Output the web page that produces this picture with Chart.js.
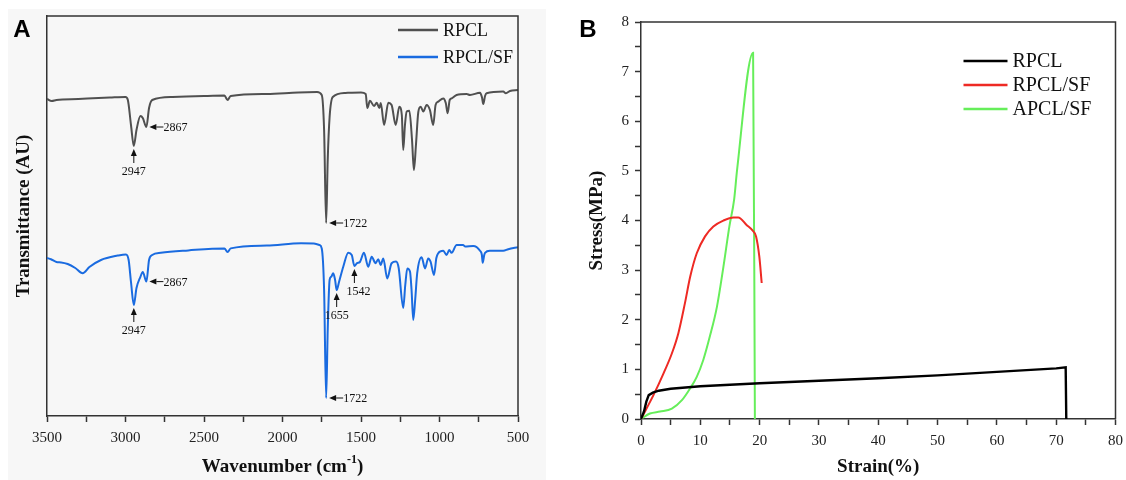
<!DOCTYPE html>
<html>
<head>
<meta charset="utf-8">
<script src="https://cdn.jsdelivr.net/npm/chart.js@4.4.1/dist/chart.umd.min.js"></script>
<style>
  body { margin: 0; background: #fff; width: 1126px; height: 480px; overflow: hidden; position: relative; }
  #bgA { position: absolute; left: 8px; top: 9px; width: 538px; height: 471px; background: #f7f7f7; }
  #chartA { position: absolute; left: 0; top: 0; }
  #chartB { position: absolute; left: 560px; top: 0; }
</style>
</head>
<body>
<div id="bgA"></div>
<canvas id="chartA" width="550" height="480"></canvas>
<canvas id="chartB" width="570" height="480"></canvas>
<script>
// ---- Panel A: FTIR spectra, [wavenumber, transmittance (AU)] ----
const rpclSpectrum = [
  [3500, 79.25], [3470, 78.75], [3440, 79], [3300, 79.25], [3100, 79.6], [3000, 79.75],
  [2985, 79], [2965, 72.75], [2947, 67.5], [2930, 71.5], [2905, 75], [2890, 74.5],
  [2867, 72.25], [2850, 77], [2830, 79], [2700, 79.75], [2500, 80], [2370, 80.1],
  [2350, 79], [2330, 80], [2100, 80.5], [1900, 80.9], [1780, 81], [1750, 80.25],
  [1735, 71.5], [1722, 48.25], [1712, 64], [1700, 74.75], [1680, 79.75], [1600, 80.75],
  [1500, 80.9], [1470, 80.5], [1460, 77], [1443, 78.8], [1417, 77.5], [1400, 78.3],
  [1383, 77], [1374, 78.25], [1353, 72.75], [1326, 78.3], [1305, 77.75], [1279, 72.75],
  [1256, 77.3], [1240, 75.25], [1231, 66.5], [1220, 72.75], [1209, 76.1], [1192, 76.3],
  [1175, 69], [1163, 61.5], [1150, 67.75], [1135, 76], [1120, 77.3], [1103, 76.1],
  [1082, 77.75], [1061, 76.5], [1040, 72.75], [1025, 77.75], [1008, 78.6], [976, 79.4],
  [960, 78.25], [948, 75.7], [935, 79], [922, 79.4], [891, 80.25], [827, 80.5],
  [806, 80.25], [742, 80.8], [730, 79.75], [721, 78], [710, 80], [700, 80.7],
  [594, 81.1], [577, 80.7], [551, 81.25], [500, 81.5]
];
const sfSpectrum = [
  [3500, 39.5], [3475, 39.2], [3440, 38.5], [3410, 38.4], [3368, 38], [3320, 37],
  [3273, 35.7], [3230, 37.25], [3156, 39], [3050, 40.1], [2997, 40.4], [2980, 39],
  [2965, 33.5], [2947, 27.75], [2930, 32], [2905, 34.8], [2890, 36], [2867, 33.6],
  [2850, 39], [2830, 40.25], [2775, 40.8], [2600, 41.4], [2370, 41.9], [2350, 41],
  [2330, 41.9], [2100, 42.6], [1882, 43.2], [1800, 43.1], [1765, 42.75], [1750, 41.9],
  [1735, 31.5], [1722, 4.5], [1712, 21.5], [1700, 34], [1690, 34.8], [1677, 35.7],
  [1665, 34], [1655, 31.5], [1640, 33.5], [1613, 37.3], [1581, 40.8], [1559, 40.25],
  [1542, 37.5], [1525, 38.2], [1507, 38.5], [1481, 40.8], [1454, 37.3], [1432, 39.8],
  [1407, 38.2], [1390, 39.2], [1375, 37.75], [1358, 39.4], [1333, 34.4], [1305, 38.2],
  [1277, 38.6], [1260, 37], [1231, 27], [1218, 32.75], [1205, 36.9], [1188, 36.1],
  [1178, 31.5], [1167, 24], [1155, 29], [1142, 35.7], [1114, 39.7], [1092, 36.9],
  [1072, 39.4], [1057, 38.6], [1035, 35.25], [1020, 39.5], [1008, 40.7], [976, 41.3],
  [955, 40.25], [938, 41.5], [923, 40.8], [891, 42.75], [850, 42.75], [838, 42.4],
  [785, 42.5], [742, 41.3], [730, 40.25], [725, 38.3], [715, 40.25], [710, 40.8],
  [679, 41.3], [594, 41.3], [562, 41.7], [500, 42.2]
];
const rpclPeaks = [2947, 2867, 1722];
const sfPeaks = [2947, 2867, 1722, 1655, 1542];
const seriesA = ["RPCL", "RPCL/SF"];

// ---- Panel B: stress-strain, [strain %, stress MPa] ----
const rpclCurve = [
  [0, 0], [0.5, 0.15], [0.9, 0.35], [1.3, 0.48], [2, 0.53], [3, 0.57], [5, 0.61],
  [10, 0.66], [20, 0.72], [30, 0.77], [40, 0.82], [50, 0.88], [60, 0.95], [70, 1.02],
  [71.6, 1.04], [71.7, 0]
];
const rpclSfCurve = [
  [0, 0], [2.1, 0.48], [3.8, 0.92], [5.2, 1.32], [6.3, 1.73], [7.4, 2.33], [8.3, 2.87],
  [9.4, 3.34], [10.8, 3.68], [12.2, 3.88], [13.9, 4.0], [15.6, 4.06], [16.4, 4.06],
  [17.8, 3.91], [18.8, 3.8], [19.4, 3.68], [19.95, 3.27], [20.35, 2.74]
];
const apclSfCurve = [
  [0, 0], [1.5, 0.11], [3.2, 0.15], [5.2, 0.21], [6.9, 0.38], [8.3, 0.62], [9.4, 0.85],
  [10.5, 1.19], [11.6, 1.66], [12.8, 2.26], [13.9, 3.07], [14.9, 3.88], [15.7, 4.42],
  [16.2, 5.02], [18.9, 7.38], [19.2, 0]
];
const seriesB = ["RPCL", "RPCL/SF", "APCL/SF"];

const serif = "'Liberation Serif', 'Times New Roman', serif";
const toXY = (pairs) => pairs.map(p => ({ x: p[0], y: p[1] }));

// frame, inside legend, axis titles and panel letter
function panelPlugin(cfg) {
  return {
    id: "panel",
    afterDraw(chart) {
      const ctx = chart.ctx;
      const a = chart.chartArea;
      ctx.save();
      ctx.strokeStyle = "#333";
      ctx.lineWidth = 1.5;
      ctx.beginPath();
      ctx.moveTo(a.left, a.top);
      ctx.lineTo(a.right, a.top);
      ctx.lineTo(a.right, a.bottom);
      ctx.stroke();

      // legend
      ctx.font = cfg.legendSize + "px " + serif;
      ctx.textBaseline = "middle";
      ctx.fillStyle = "#111";
      chart.data.datasets.forEach((ds, i) => {
        const y = a.top + cfg.legendTop + i * cfg.legendGap;
        ctx.strokeStyle = ds.borderColor;
        ctx.lineWidth = 2.5;
        ctx.beginPath();
        ctx.moveTo(a.right - cfg.legendX, y);
        ctx.lineTo(a.right - cfg.legendX + cfg.legendLen, y);
        ctx.stroke();
        ctx.textAlign = "left";
        ctx.fillText(ds.label, a.right - cfg.legendX + cfg.legendLen + 5, y + 1);
      });

      // axis titles
      ctx.fillStyle = "#111";
      ctx.font = "bold 19px " + serif;
      ctx.textAlign = "center";
      const cx = (a.left + a.right) / 2;
      if (cfg.xSup) {
        const main = cfg.xTitle, tail = ")";
        const w1 = ctx.measureText(main).width;
        ctx.font = "bold 12px " + serif;
        const w2 = ctx.measureText(cfg.xSup).width;
        ctx.font = "bold 19px " + serif;
        const w3 = ctx.measureText(tail).width;
        let x0 = cx - (w1 + w2 + w3) / 2;
        ctx.textAlign = "left";
        ctx.fillText(main, x0, cfg.xTitleY);
        ctx.font = "bold 12px " + serif;
        ctx.fillText(cfg.xSup, x0 + w1, cfg.xTitleY - 7);
        ctx.font = "bold 19px " + serif;
        ctx.fillText(tail, x0 + w1 + w2, cfg.xTitleY);
      } else {
        ctx.fillText(cfg.xTitle, cx, cfg.xTitleY);
      }
      ctx.save();
      ctx.translate(cfg.yTitleX, (a.top + a.bottom) / 2);
      ctx.rotate(-Math.PI / 2);
      ctx.textAlign = "center";
      ctx.fillText(cfg.yTitle, 0, 0);
      ctx.restore();

      // panel letter
      ctx.font = "bold 24px 'Liberation Sans', Arial, sans-serif";
      ctx.textAlign = "center";
      ctx.fillStyle = "#000";
      ctx.fillText(cfg.letter, cfg.letterX, 30);
      ctx.restore();
    }
  };
}

// peak arrows on the spectra
const peakPlugin = {
  id: "peaks",
  afterDatasetsDraw(chart) {
    const ctx = chart.ctx;
    const side = [2867, 1722];
    ctx.save();
    ctx.fillStyle = "#111";
    ctx.strokeStyle = "#111";
    ctx.lineWidth = 1;
    ctx.font = "12px " + serif;
    ctx.textBaseline = "middle";
    [rpclPeaks, sfPeaks].forEach((peaks, di) => {
      const meta = chart.getDatasetMeta(di);
      const src = chart.data.datasets[di].data;
      peaks.forEach(wn => {
        const idx = src.findIndex(p => p.x === wn);
        const pt = meta.data[idx];
        const x = pt.x, y = pt.y;
        if (side.includes(wn)) {
          ctx.beginPath();
          ctx.moveTo(x + 3, y);
          ctx.lineTo(x + 10, y - 3);
          ctx.lineTo(x + 10, y + 3);
          ctx.closePath();
          ctx.fill();
          ctx.beginPath();
          ctx.moveTo(x + 10, y);
          ctx.lineTo(x + 17, y);
          ctx.stroke();
          ctx.textAlign = "left";
          ctx.fillText(String(wn), x + 17, y + 1);
        } else {
          ctx.beginPath();
          ctx.moveTo(x, y + 3);
          ctx.lineTo(x - 3, y + 10);
          ctx.lineTo(x + 3, y + 10);
          ctx.closePath();
          ctx.fill();
          ctx.beginPath();
          ctx.moveTo(x, y + 10);
          ctx.lineTo(x, y + 17);
          ctx.stroke();
          ctx.textAlign = "center";
          ctx.fillText(String(wn), x + (wn === 1542 ? 4 : 0), y + 26);
        }
      });
    });
    ctx.restore();
  }
};

const tickFont = { family: serif, size: 15 };

new Chart(document.getElementById("chartA"), {
  type: "line",
  data: {
    datasets: [
      { label: seriesA[0], data: toXY(rpclSpectrum), borderColor: "#505050", borderWidth: 2,
        pointRadius: 0, cubicInterpolationMode: "monotone" },
      { label: seriesA[1], data: toXY(sfSpectrum), borderColor: "#1a6be0", borderWidth: 2,
        pointRadius: 0, cubicInterpolationMode: "monotone" }
    ]
  },
  options: {
    responsive: false,
    animation: false,
    events: [],
    layout: { padding: { left: 0, top: 16, right: 32, bottom: 0 } },
    plugins: { legend: { display: false }, tooltip: { enabled: false } },
    scales: {
      x: {
        type: "linear", min: 500, max: 3500, reverse: true,
        afterFit: (s) => { s.height = 64; },
        ticks: { stepSize: 250, autoSkip: false, maxRotation: 0, color: "#222", font: tickFont,
                 padding: 7, callback: (v) => (v % 500 === 0 ? v : "") },
        grid: { drawOnChartArea: false, tickLength: 6, tickColor: "#333", tickWidth: 1.5 },
        border: { color: "#333", width: 1.5 }
      },
      y: {
        min: 0, max: 100,
        afterFit: (s) => { s.width = 47; },
        ticks: { display: false },
        grid: { display: false },
        border: { color: "#333", width: 1.5 }
      }
    }
  },
  plugins: [peakPlugin, panelPlugin({
    legendTop: 14, legendGap: 27, legendX: 120, legendLen: 40, legendSize: 18,
    xTitle: "Wavenumber (cm", xSup: "-1", xTitleY: 467,
    yTitle: "Transmittance (AU)", yTitleX: 24,
    letter: "A", letterX: 22
  })]
});

new Chart(document.getElementById("chartB"), {
  type: "line",
  data: {
    datasets: [
      { label: seriesB[0], data: toXY(rpclCurve), borderColor: "#000000", borderWidth: 2.4,
        pointRadius: 0, tension: 0 },
      { label: seriesB[1], data: toXY(rpclSfCurve), borderColor: "#ee2a24", borderWidth: 2,
        pointRadius: 0, cubicInterpolationMode: "monotone" },
      { label: seriesB[2], data: toXY(apclSfCurve), borderColor: "#66ee5a", borderWidth: 2,
        pointRadius: 0, cubicInterpolationMode: "monotone" }
    ]
  },
  options: {
    responsive: false,
    animation: false,
    events: [],
    layout: { padding: { left: 0, top: 22, right: 8, bottom: 0 } },
    plugins: { legend: { display: false }, tooltip: { enabled: false } },
    scales: {
      x: {
        type: "linear", min: 0, max: 80,
        afterFit: (s) => { s.height = 61; },
        ticks: { stepSize: 5, autoSkip: false, maxRotation: 0, color: "#222", font: tickFont,
                 padding: 7, callback: (v) => (v % 10 === 0 ? v : "") },
        grid: { drawOnChartArea: false, tickLength: 6, tickColor: "#333", tickWidth: 1.5 },
        border: { color: "#333", width: 1.5 }
      },
      y: {
        min: 0, max: 8,
        afterFit: (s) => { s.width = 81; },
        ticks: { stepSize: 0.5, autoSkip: false, color: "#222", font: tickFont, padding: 6,
                 callback: (v) => (Number.isInteger(v) ? v : "") },
        grid: { drawOnChartArea: false, tickLength: 6, tickColor: "#333", tickWidth: 1.5 },
        border: { color: "#333", width: 1.5 }
      }
    }
  },
  plugins: [panelPlugin({
    legendTop: 39, legendGap: 24, legendX: 152, legendLen: 44, legendSize: 20,
    xTitle: "Strain(%)", xTitleY: 467,
    yTitle: "Stress(MPa)", yTitleX: 37,
    letter: "B", letterX: 28
  })]
});
</script>
</body>
</html>
